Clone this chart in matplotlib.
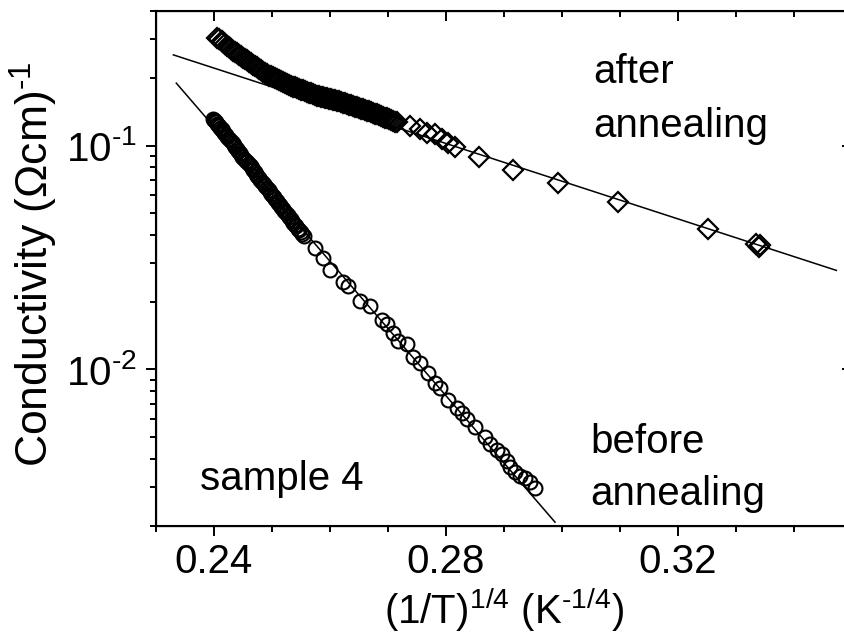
import matplotlib
matplotlib.use("Agg")
import matplotlib.pyplot as plt
from matplotlib.ticker import MultipleLocator, LogLocator, NullFormatter

plt.rcParams['font.family'] = ['Liberation Sans', 'DejaVu Sans']
plt.rcParams['mathtext.fontset'] = 'custom'
plt.rcParams['mathtext.rm'] = 'Liberation Sans'
plt.rcParams['mathtext.it'] = 'Liberation Sans:italic'
plt.rcParams['mathtext.default'] = 'regular'

# --- before annealing (circles) ---
before_x = [0.2399, 0.2402, 0.2406, 0.2409, 0.2413, 0.2416, 0.2421, 0.2426, 0.2432,
            0.2437, 0.2442, 0.2447, 0.2452, 0.2457, 0.2463, 0.2468, 0.2473, 0.2478,
            0.2483, 0.2488, 0.2494, 0.2499, 0.2504, 0.2509, 0.2514, 0.2519, 0.2524,
            0.2530, 0.2535, 0.2540, 0.2545, 0.2550, 0.2555,
            0.2400, 0.2404, 0.2407, 0.2411, 0.2414, 0.2418, 0.2423, 0.2429, 0.2434,
            0.2439, 0.2444, 0.2449, 0.2455, 0.2460, 0.2465, 0.2470, 0.2475, 0.2480,
            0.2486, 0.2491, 0.2496, 0.2501, 0.2506, 0.2511, 0.2516, 0.2521, 0.2527,
            0.2532, 0.2537, 0.2542, 0.2547, 0.2552,
            0.2574, 0.2588, 0.2600, 0.2623, 0.2631, 0.2652, 0.2669, 0.2690, 0.2698,
            0.2709, 0.2717, 0.2733, 0.2743, 0.2755, 0.2769, 0.2781, 0.2790, 0.2803,
            0.2819, 0.2828, 0.2836, 0.2850, 0.2867, 0.2876, 0.2888, 0.2896, 0.2905,
            0.2910, 0.2919, 0.2928, 0.2936, 0.2945, 0.2953]
before_y = [0.1320, 0.1285, 0.1252, 0.1219, 0.1187, 0.1156, 0.1110, 0.1067, 0.1025,
            0.0985, 0.0947, 0.0910, 0.0874, 0.0840, 0.0807, 0.0775, 0.0745, 0.0716,
            0.0688, 0.0661, 0.0635, 0.0610, 0.0587, 0.0564, 0.0542, 0.0521, 0.0500,
            0.0481, 0.0462, 0.0444, 0.0426, 0.0410, 0.0394,
            0.1302, 0.1268, 0.1236, 0.1203, 0.1171, 0.1133, 0.1088, 0.1046, 0.1005,
            0.0966, 0.0928, 0.0892, 0.0857, 0.0823, 0.0791, 0.0760, 0.0730, 0.0702,
            0.0674, 0.0648, 0.0622, 0.0598, 0.0575, 0.0553, 0.0531, 0.0510, 0.0490,
            0.0471, 0.0453, 0.0435, 0.0418, 0.0402,
            0.0350, 0.0316, 0.0277, 0.0245, 0.0237, 0.0203, 0.0193, 0.01656, 0.01603,
            0.01448, 0.01347, 0.01306, 0.01132, 0.01074, 0.00960, 0.00866, 0.00823, 0.00727,
            0.00670, 0.00636, 0.00604, 0.00551, 0.00497, 0.00467, 0.00435, 0.00421, 0.00392,
            0.00365, 0.00347, 0.00336, 0.00326, 0.00313, 0.00297]

# --- after annealing (diamonds) ---
after_x = [0.2406, 0.2413, 0.2419, 0.2426, 0.2433, 0.2440, 0.2447, 0.2454, 0.2461,
           0.2468, 0.2475, 0.2481, 0.2488, 0.2495, 0.2502, 0.2509, 0.2516, 0.2523,
           0.2530, 0.2537, 0.2543, 0.2550, 0.2557, 0.2564, 0.2571, 0.2578, 0.2585,
           0.2592, 0.2599, 0.2605, 0.2612, 0.2619, 0.2626, 0.2633, 0.2640, 0.2647,
           0.2654, 0.2661, 0.2667, 0.2674, 0.2681, 0.2688, 0.2695, 0.2702, 0.2709,
           0.2716,
           0.2409, 0.2416, 0.2423, 0.2430, 0.2436, 0.2443, 0.2450, 0.2457, 0.2464,
           0.2471, 0.2478, 0.2485, 0.2492, 0.2499, 0.2505, 0.2512, 0.2519, 0.2526,
           0.2533, 0.2540, 0.2547, 0.2554, 0.2561, 0.2568, 0.2574, 0.2581, 0.2588,
           0.2595, 0.2602, 0.2609, 0.2616, 0.2623, 0.2630, 0.2636, 0.2643, 0.2650,
           0.2657, 0.2664, 0.2671, 0.2678, 0.2685, 0.2692, 0.2699, 0.2705, 0.2712,
           0.2738, 0.2755, 0.2767, 0.2781, 0.2793, 0.2803, 0.2815, 0.2857, 0.2915,
           0.2993, 0.3096, 0.3251, 0.3334, 0.3339, 0.3342]
after_y = [0.3034, 0.2934, 0.2839, 0.2745, 0.2655, 0.2580, 0.2506, 0.2433, 0.2364,
           0.2297, 0.2232, 0.2166, 0.2104, 0.2054, 0.2014, 0.1975, 0.1937, 0.1900,
           0.1862, 0.1832, 0.1804, 0.1777, 0.1749, 0.1724, 0.1698, 0.1671, 0.1655,
           0.1636, 0.1620, 0.1601, 0.1585, 0.1567, 0.1544, 0.1524, 0.1504, 0.1483,
           0.1463, 0.1443, 0.1421, 0.1400, 0.1377, 0.1355, 0.1334, 0.1312, 0.1291,
           0.1270,
           0.2984, 0.2886, 0.2792, 0.2700, 0.2617, 0.2543, 0.2469, 0.2398, 0.2330,
           0.2264, 0.2199, 0.2135, 0.2079, 0.2034, 0.1994, 0.1956, 0.1918, 0.1881,
           0.1847, 0.1818, 0.1790, 0.1763, 0.1736, 0.1711, 0.1684, 0.1663, 0.1645,
           0.1628, 0.1610, 0.1593, 0.1576, 0.1555, 0.1534, 0.1514, 0.1493, 0.1473,
           0.1453, 0.1432, 0.1410, 0.1388, 0.1366, 0.1344, 0.1323, 0.1301, 0.1280,
           0.1228, 0.1191, 0.1143, 0.1131, 0.1074, 0.1031, 0.0990, 0.0893, 0.0781,
           0.0677, 0.0557, 0.0426, 0.0365, 0.0353, 0.0360]

# --- fitted lines (end points) ---
fit_after_x = [0.2330, 0.3473]
fit_after_y = [0.254, 0.0277]
fit_before_x = [0.2335, 0.2988]
fit_before_y = [0.190, 0.00208]

x_major = [0.24, 0.28, 0.32]
x_labels = ['0.24', '0.28', '0.32']
y_major = [0.01, 0.1]
y_labels = ['10$^{\\text{-2}}$', '10$^{\\text{-1}}$']

fs = 29
fig = plt.figure(figsize=(8.45, 6.42), dpi=100)
ax = fig.add_axes([0.1846, 0.1807, 0.8237, 0.8026])

ax.plot(fit_after_x, fit_after_y, color='black', lw=1.1)
ax.plot(fit_before_x, fit_before_y, color='black', lw=1.1)
ax.plot(after_x, after_y, ls='none', marker='D', ms=10, mfc='none', mec='black', mew=1.6)
ax.plot(before_x, before_y, ls='none', marker='o', ms=10, mfc='none', mec='black', mew=1.5)

ax.set_yscale('log')
ax.set_xlim(0.23, 0.35)
ax.set_ylim(0.002, 0.4)

ax.set_xticks(x_major)
ax.set_xticklabels(x_labels)
ax.xaxis.set_minor_locator(MultipleLocator(0.01))
ax.set_yticks(y_major)
ax.set_yticklabels(y_labels)
ax.yaxis.set_minor_locator(LogLocator(base=10, subs=range(2, 10)))
ax.yaxis.set_minor_formatter(NullFormatter())

ax.tick_params(which='major', direction='out', length=7.5, width=1.4, labelsize=fs)
ax.tick_params(which='minor', direction='out', length=4, width=1.4)
ax.tick_params(axis='x', which='major', pad=5)
ax.tick_params(axis='y', which='major', pad=6)
for s in ax.spines.values():
    s.set_linewidth(1.5)

# mirrored axes: ticks pointing inward on top and right
axt = ax.twiny()
axt.set_xlim(ax.get_xlim())
axt.set_xticks(x_major)
axt.xaxis.set_minor_locator(MultipleLocator(0.01))
axt.tick_params(which='major', direction='in', length=7.5, width=1.4, labeltop=False)
axt.tick_params(which='minor', direction='in', length=4, width=1.4)
axr = ax.twinx()
axr.set_yscale('log')
axr.set_ylim(ax.get_ylim())
axr.set_yticks(y_major)
axr.yaxis.set_minor_locator(LogLocator(base=10, subs=range(2, 10)))
axr.tick_params(which='major', direction='in', length=7.5, width=1.4, labelright=False)
axr.tick_params(which='minor', direction='in', length=4, width=1.4, labelright=False)

ax.set_xlabel('(1/T)$^{1/4}$ (K$^{\\text{-1/4}}$)', fontsize=fs)
ax.xaxis.set_label_coords(0.5, -0.115)
ax.set_ylabel('Conductivity ($\\Omega$cm)$^{\\text{-1}}$', fontsize=32)
ax.yaxis.set_label_coords(-0.138, 0.508)

ax.text(0.628, 0.860, 'after', transform=ax.transAxes, fontsize=fs, va='baseline')
ax.text(0.628, 0.755, 'annealing', transform=ax.transAxes, fontsize=fs, va='baseline')
ax.text(0.6236, 0.1417, 'before', transform=ax.transAxes, fontsize=fs, va='baseline')
ax.text(0.6236, 0.0408, 'annealing', transform=ax.transAxes, fontsize=fs, va='baseline')
ax.text(0.0632, 0.0699, 'sample 4', transform=ax.transAxes, fontsize=fs, va='baseline')

fig.savefig('out.png', dpi=100)
